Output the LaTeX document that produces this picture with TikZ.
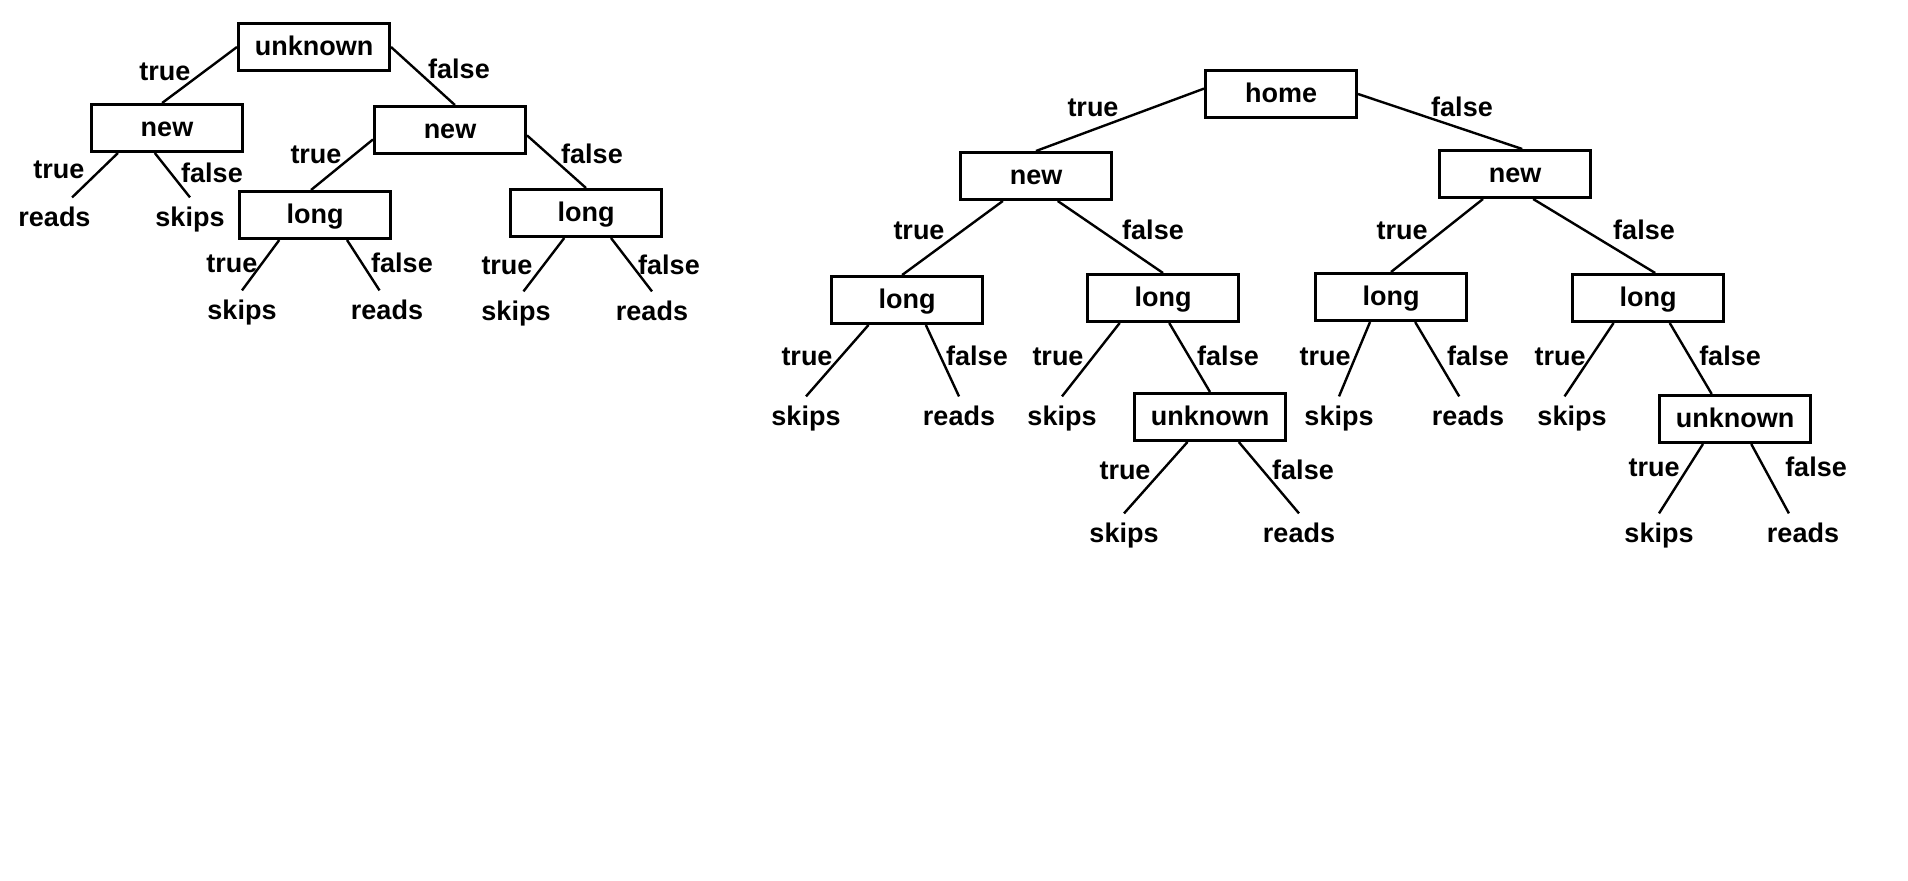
\documentclass[tikz,border=0pt]{standalone}
\usepackage{fontspec}
\setmainfont{Liberation Sans}
\usepackage{tikz}
\usetikzlibrary{shapes}
\newcommand{\dtfont}{\fontsize{19.2pt}{22pt}\selectfont\bfseries}
\tikzstyle{dtnode}=[rectangle, draw, line width=0.08cm, inner sep=0pt, minimum width=3.77cm, minimum height=1.17cm, text height=13.8pt, text depth=2.3pt, font=\dtfont]
\tikzstyle{dtleaf}=[anchor=base, inner xsep=0pt, inner ysep=0.2cm, text height=13.8pt, text depth=4pt, font=\dtfont]
\tikzstyle{dtlabel}=[inner sep=0pt, text height=13.8pt, text depth=0pt, font=\dtfont]
\newcommand{\dtnode}[3]{
	\node[dtnode] (#1) at (#2) {#3};}
\newcommand{\dtleaf}[3]{
	\node[dtleaf] (#1) at (#2) {#3};}
\newcommand{\dtlabel}[3]{
	\node[dtlabel] (#1) at (#2) {#3};}

\begin{document}
\begin{tikzpicture}[x=0.025cm, y=-0.025cm, line width=0.06cm]
\useasboundingbox (0,0) rectangle (1908,881);
% first tree
\dtnode{u1}{314,47}{unknown}
\dtnode{n1}{167,128}{new}
\dtnode{n2}{450,130}{new}
\dtnode{l1}{315,215}{long}
\dtnode{l2}{586,213}{long}
\dtleaf{r1}{54.5,226}{reads}
\dtleaf{s1}{190,226}{skips}
\dtleaf{s2}{242,319}{skips}
\dtleaf{r2}{387,319}{reads}
\dtleaf{s3}{516,320}{skips}
\dtleaf{r3}{652,320}{reads}
\dtlabel{t1}{165,71}{true}
\dtlabel{f1}{459,69}{false}
\dtlabel{t2}{59,169}{true}
\dtlabel{f2}{212,173}{false}
\dtlabel{t3}{316,154}{true}
\dtlabel{f3}{592,154}{false}
\dtlabel{t4}{232,263}{true}
\dtlabel{f4}{402,263}{false}
\dtlabel{t5}{507,265}{true}
\dtlabel{f5}{669,265}{false}
\path (u1.west) edge (n1.101);
\path (u1.east) edge (n2.79);
\path (n1.207) edge (r1.51);
\path (n1.244) edge (s1.north);
\path (n2.187) edge (l1.99);
\path (n2.356) edge (l2.north);
\path (l1.215) edge (s2.north);
\path (l1.322) edge (r2.109);
\path (l2.229) edge (s3.71);
\path (l2.315) edge (r3.north);
% second tree
\dtnode{h}{1281,94}{home}
\dtnode{n3}{1036,176}{new}
\dtnode{n4}{1515,174}{new}
\dtnode{l3}{907,300}{long}
\dtnode{l4}{1163,298}{long}
\dtnode{l5}{1391,297}{long}
\dtnode{l6}{1648,298}{long}
\dtnode{u2}{1210,417}{unknown}
\dtnode{u3}{1735,419}{unknown}
\dtleaf{s4}{806,425}{skips}
\dtleaf{r4}{959,425}{reads}
\dtleaf{s5}{1062,425}{skips}
\dtleaf{s6}{1124,542}{skips}
\dtleaf{r5}{1299,542}{reads}
\dtleaf{s7}{1339,425}{skips}
\dtleaf{r6}{1468,425}{reads}
\dtleaf{s8}{1572,425}{skips}
\dtleaf{s9}{1659,542}{skips}
\dtleaf{r7}{1803,542}{reads}
\dtlabel{t6}{1093,107}{true}
\dtlabel{f6}{1462,107}{false}
\dtlabel{t7}{919,230}{true}
\dtlabel{f7}{1153,230}{false}
\dtlabel{t8}{1402,230}{true}
\dtlabel{f8}{1644,230}{false}
\dtlabel{t9}{807,356}{true}
\dtlabel{f9}{977,356}{false}
\dtlabel{t10}{1058,356}{true}
\dtlabel{f10}{1228,356}{false}
\dtlabel{t11}{1325,356}{true}
\dtlabel{f11}{1478,356}{false}
\dtlabel{t12}{1560,356}{true}
\dtlabel{f12}{1730,356}{false}
\dtlabel{t13}{1125,470}{true}
\dtlabel{f13}{1303,470}{false}
\dtlabel{t14}{1654,467}{true}
\dtlabel{f14}{1816,467}{false}
\path (h.176) edge (n3.north);
\path (h.east) edge (n4.74);
\path (n3.217) edge (l3.101);
\path (n3.311) edge (l4.north);
\path (l3.213) edge (s4.north);
\path (l3.307) edge (r4.north);
\path (l4.210) edge (s5.north);
\path (l4.284) edge (u2.north);
\path (u2.228) edge (s6.north);
\path (u2.319) edge (r5.north);
\path (n4.218) edge (l5.north);
\path (n4.306) edge (l6.74);
\path (l5.230) edge (s7.north);
\path (l5.314) edge (r6.112);
\path (l6.216) edge (s8.109);
\path (l6.311) edge (u3.133);
\path (u3.218) edge (s9.north);
\path (u3.303) edge (r7.123);
\end{tikzpicture}
\end{document}
